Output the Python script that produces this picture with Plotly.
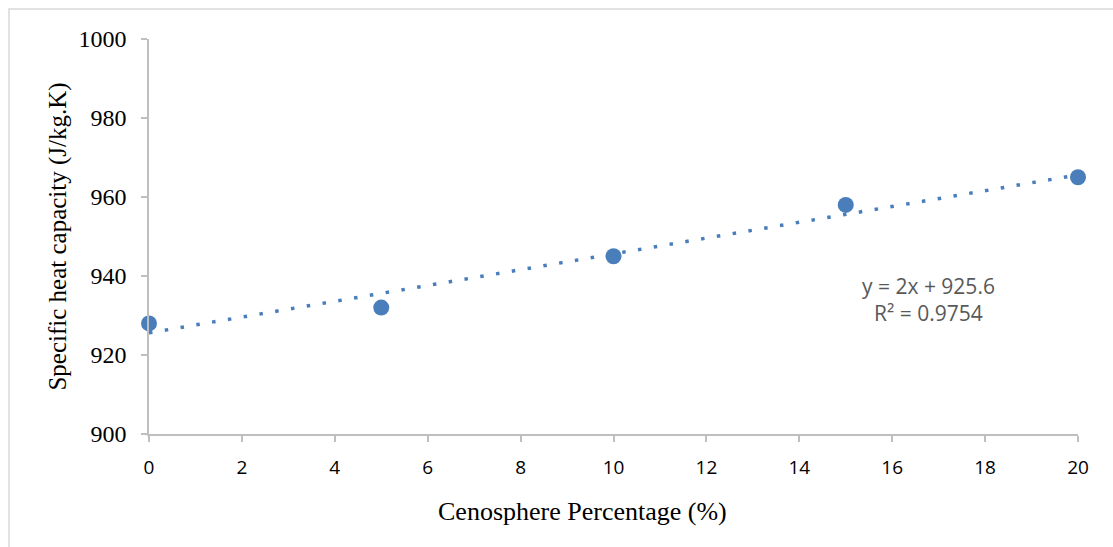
import numpy as np
import plotly.graph_objects as go

# Data
cenosphere_pct = [0, 5, 10, 15, 20]
specific_heat = [928, 932, 945, 958, 965]
x_ticks = [0, 2, 4, 6, 8, 10, 12, 14, 16, 18, 20]
y_ticks = [900, 920, 940, 960, 980, 1000]

slope, intercept = np.polyfit(cenosphere_pct, specific_heat, 1)
fit_y = [slope * x + intercept for x in cenosphere_pct]
yhat = np.array(fit_y)
y = np.array(specific_heat)
r2 = 1 - np.sum((y - yhat) ** 2) / np.sum((y - y.mean()) ** 2)

W, H = 1113, 547
L, R, T, B = 149, 35, 39, 113
pw, ph = W - L - R, H - T - B

blue = "#4A7EBB"
grid = "#BFBFBF"
serif = "Liberation Serif, Times New Roman, serif"
sans = "Open Sans, Liberation Sans, sans-serif"

fig = go.Figure()
fig.add_trace(go.Scatter(
    x=cenosphere_pct, y=fit_y, mode="lines",
    line=dict(color=blue, width=3.5, dash="3.5px,12.5px"),
    hoverinfo="skip", showlegend=False, cliponaxis=False,
))
fig.add_trace(go.Scatter(
    x=cenosphere_pct, y=specific_heat, mode="markers",
    marker=dict(color=blue, size=16),
    showlegend=False, cliponaxis=False,
))

fig.add_annotation(
    x=16.78, y=934, xref="x", yref="y",
    text=f"y = {slope:.0f}x + {intercept:.1f}<br>R² = {r2:.4f}",
    showarrow=False, align="center",
    font=dict(family=sans, size=21, color="#595959"),
)

# x axis title (slightly left of centre, as in the original)
fig.add_annotation(
    x=(582 - L) / pw, y=-(511 - T - ph) / ph, xref="paper", yref="paper",
    text="Cenosphere Percentage (%)", showarrow=False,
    xanchor="center", yanchor="middle",
    font=dict(family=serif, size=26, color="black"),
)

# outer border
fig.add_shape(
    type="rect", xref="paper", yref="paper",
    x0=(9 - L) / pw, x1=(W + 5 - L) / pw,
    y0=-(B + 5) / ph, y1=1 + (T - 9) / ph,
    line=dict(color="#D9D9D9", width=1.5), layer="below",
)

fig.update_layout(
    width=W, height=H,
    margin=dict(l=L, r=R, t=T, b=B),
    paper_bgcolor="white", plot_bgcolor="white",
    showlegend=False,
)
fig.update_xaxes(
    range=[0, 20], tickvals=x_ticks, ticktext=[str(v) for v in x_ticks],
    showgrid=False, zeroline=False,
    showline=True, linecolor=grid, linewidth=1.5,
    ticks="outside", ticklen=6, tickcolor=grid, tickwidth=1.5,
    tickfont=dict(family=sans, size=19, color="black"),
    ticklabelstandoff=9,
)
fig.update_yaxes(
    range=[900, 1000], tickvals=y_ticks, ticktext=[str(v) for v in y_ticks],
    showgrid=False, zeroline=False,
    showline=True, linecolor=grid, linewidth=1.5,
    ticks="outside", ticklen=6, tickcolor=grid, tickwidth=1.5,
    tickfont=dict(family=serif, size=24, color="black"),
    ticklabelstandoff=10,
    title=dict(text="Specific heat capacity (J/kg.K)",
               font=dict(family=serif, size=25, color="black"),
               standoff=5),
)

fig.write_html("out.html", config={"displayModeBar": False},
               post_script="document.body.style.margin='0px';")
